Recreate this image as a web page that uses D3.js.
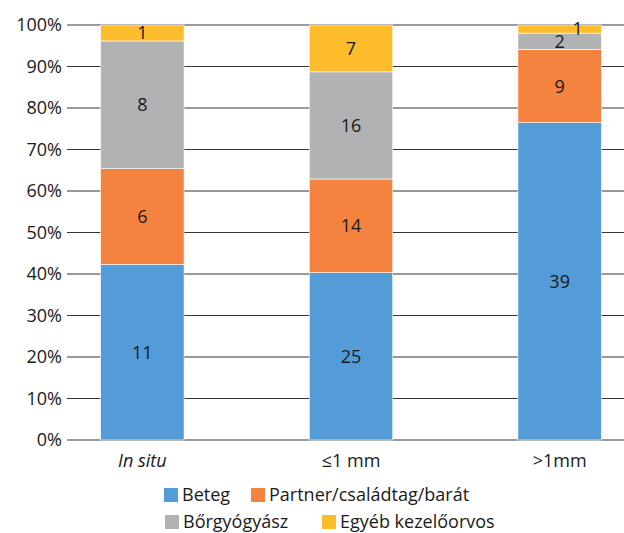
<!DOCTYPE html>
<html><head><meta charset="utf-8">
<script src="https://cdn.jsdelivr.net/npm/d3@7"></script>
<style>body{margin:0;background:#fff}svg text{font-family:"Open Sans","Noto Sans",sans-serif;fill:#1a1a1a}</style>
</head><body>
<svg id="c" width="624" height="533"></svg>
<script>
const categories = ["In situ", "≤1 mm", ">1mm"];
const seriesNames = ["Beteg", "Partner/családtag/barát", "Bőrgyógyász", "Egyéb kezelőorvos"];
const beteg = [11, 25, 39];
const partner = [6, 14, 9];
const borgyogyasz = [8, 16, 2];
const egyeb = [1, 7, 1];
const yTicks = [0, 10, 20, 30, 40, 50, 60, 70, 80, 90, 100];
const colors = ["#539cd7", "#f3833f", "#b1b2b4", "#fdbc2c"];

const values = [beteg, partner, borgyogyasz, egyeb];
const rows = categories.map((c, i) => {
  const o = {cat: c};
  const tot = values.reduce((s, v) => s + v[i], 0);
  seriesNames.forEach((s, k) => { o[s] = values[k][i] / tot * 100; o[s + "_n"] = values[k][i]; });
  return o;
});
const stack = d3.stack().keys(seriesNames)(rows);

const svg = d3.select("#c");
const x = d3.scaleBand().domain(categories).range([38, 664]).paddingInner(0.6).paddingOuter(0.3);
const y = d3.scaleLinear().domain([0, 100]).range([440, 25]);

// gridlines
svg.append("g").selectAll("line").data(yTicks).join("line")
  .attr("x1", 67).attr("x2", 624).attr("y1", d => y(d)).attr("y2", d => y(d))
  .attr("stroke", d => (d === 0 || d === 100) ? "#7a7a7a" : "#333").attr("stroke-width", d => (d === 0 || d === 100) ? 1.4 : 1);

// y tick labels
svg.append("g").selectAll("text").data(yTicks).join("text")
  .attr("x", 62).attr("y", d => y(d)).attr("dy", "0.36em").attr("text-anchor", "end")
  .style("font-size", "18px").text(d => d + "%");

// bars
const g = svg.append("g");
stack.forEach((layer, k) => {
  g.append("g").selectAll("rect").data(layer).join("rect")
    .attr("x", d => x(d.data.cat)).attr("width", x.bandwidth())
    .attr("y", d => y(d[1])).attr("height", d => y(d[0]) - y(d[1]))
    .attr("fill", colors[k]).attr("stroke", "#fff").attr("stroke-width", 0.6);
});
// value labels
stack.forEach((layer, k) => {
  g.append("g").selectAll("text").data(layer).join("text")
    .attr("x", (d, i) => x(d.data.cat) + x.bandwidth() / 2 + ((y(d[0]) - y(d[1]) < 10) ? 18 : 0))
    .attr("y", d => (y(d[0]) + y(d[1])) / 2 + ((y(d[0]) - y(d[1]) < 10) ? -1 : 0))
    .attr("dy", "0.36em").attr("text-anchor", "middle").style("font-size", "18px")
    .text(d => d.data[seriesNames[k] + "_n"]);
});

// x labels
svg.append("g").selectAll("text").data(categories).join("text")
  .attr("x", d => x(d) + x.bandwidth() / 2).attr("y", 467).attr("text-anchor", "middle")
  .style("font-size", "18px").style("font-style", (d, i) => i === 0 ? "italic" : "normal").text(d => d);

// legend
const legPos = [[164, 495], [251, 495], [165, 522], [322, 522]];
const leg = svg.append("g");
seriesNames.forEach((s, k) => {
  const [lx, ly] = legPos[k];
  leg.append("rect").attr("x", lx).attr("y", ly - 7).attr("width", 14).attr("height", 14).attr("fill", colors[k]);
  leg.append("text").attr("x", lx + 18).attr("y", ly).attr("dy", "0.36em").style("font-size", "18px").text(s);
});
</script>
</body></html>
